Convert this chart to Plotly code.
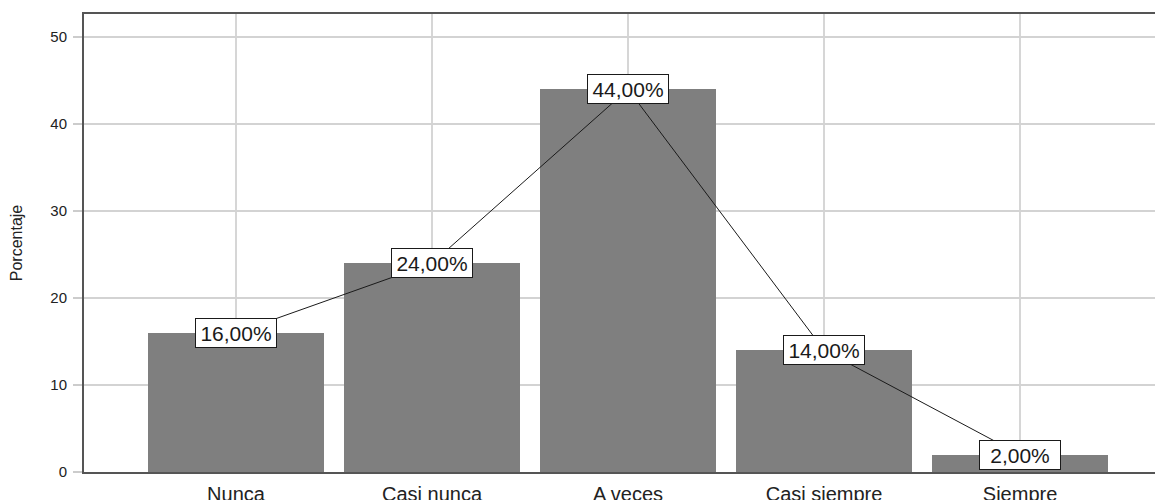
import plotly.graph_objects as go

categories = ["Nunca", "Casi nunca", "A veces", "Casi siempre", "Siempre"]
percentages = [16, 24, 44, 14, 2]
labels = ["16,00%", "24,00%", "44,00%", "14,00%", "2,00%"]
y_ticks = [0, 10, 20, 30, 40, 50]

FONT = "Liberation Sans, Arial, sans-serif"

fig = go.Figure()
fig.add_trace(go.Bar(
    x=categories, y=percentages, width=0.898,
    marker=dict(color="#7f7f7f", line=dict(width=0)),
    showlegend=False, hoverinfo="skip",
))
fig.add_trace(go.Scatter(
    x=categories, y=percentages, mode="lines",
    line=dict(color="#1a1a1a", width=1),
    showlegend=False, hoverinfo="skip",
))

for c, v, t in zip(categories, percentages, labels):
    fig.add_annotation(
        x=c, y=v, text=t, showarrow=False,
        font=dict(family=FONT, size=21, color="#1a1a1a"),
        bgcolor="white", bordercolor="#1a1a1a", borderwidth=1, borderpad=0,
        width=80, height=28, xanchor="center", yanchor="middle",
    )

fig.update_layout(
    width=1163, height=500,
    margin=dict(l=76, r=0, t=6, b=36, pad=0),
    plot_bgcolor="white", paper_bgcolor="white",
    bargap=0,
    font=dict(family=FONT, color="#222222"),
)
fig.update_xaxes(
    type="category", range=[-0.7755, 4.770], automargin=False,
    showgrid=True, gridcolor="#d6d6d6", gridwidth=2,
    showline=True, linecolor="#555555", linewidth=2, mirror=True,
    ticks="outside", ticklen=3, tickcolor="rgba(0,0,0,0)",
    tickfont=dict(size=20, color="#222222"),
    zeroline=False,
)
fig.update_yaxes(
    range=[0, 52.65], tickvals=y_ticks, automargin=False,
    showgrid=True, gridcolor="#d3d3d3", gridwidth=1.5,
    showline=True, linecolor="#555555", linewidth=2,
    ticks="outside", ticklen=9, tickcolor="#cccccc", tickwidth=2,
    ticklabelstandoff=3,
    tickfont=dict(size=15, color="#222222"),
    title=dict(text="Porcentaje", font=dict(size=16, color="#222222"), standoff=30),
    zeroline=False,
)

fig.write_html("out.html")
